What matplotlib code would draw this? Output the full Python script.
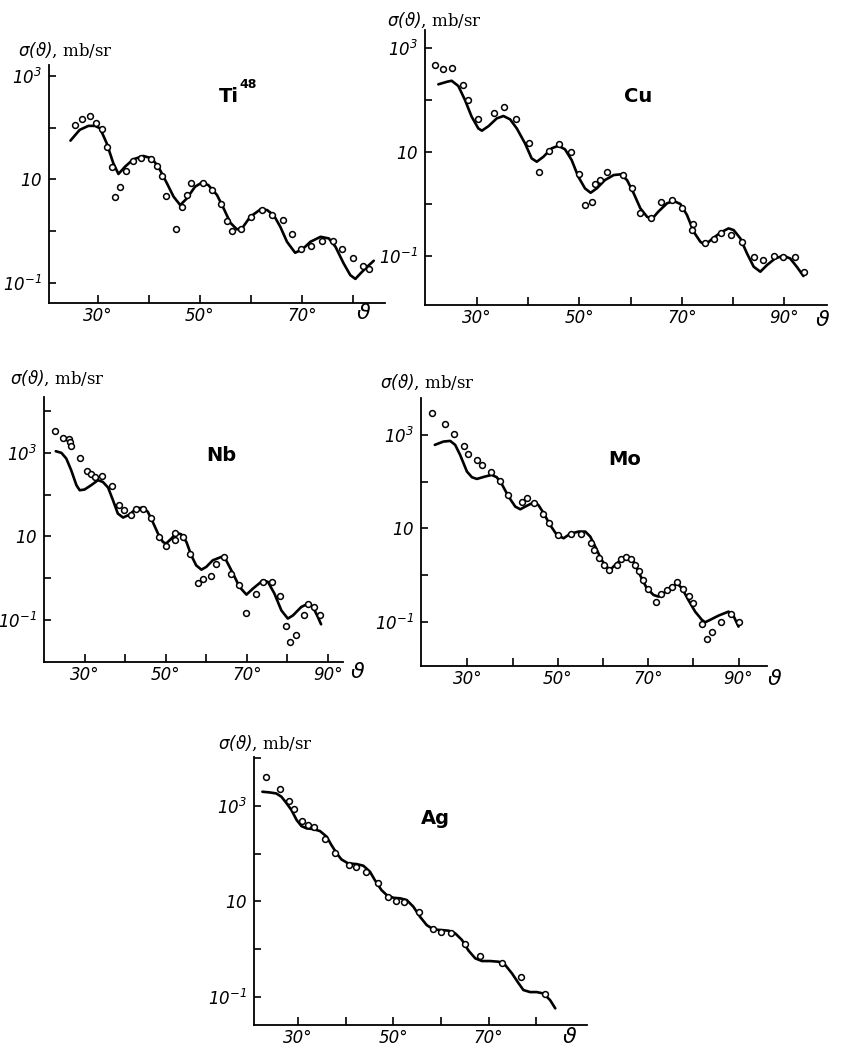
import matplotlib
matplotlib.use('Agg')
import matplotlib.pyplot as plt
from matplotlib.ticker import NullLocator

plt.rcParams['mathtext.fontset'] = 'custom'
plt.rcParams['mathtext.it'] = 'DejaVu Sans:italic'
plt.rcParams['mathtext.rm'] = 'DejaVu Sans:italic'
plt.rcParams['mathtext.default'] = 'it'

# ---------------- data (angle in degrees, cross-section in mb/sr) ----------------
ti_exp_deg = [25.5, 26.9, 28.6, 29.8, 30.9, 31.8, 32.8, 33.5, 34.5, 35.6, 37.0, 38.6, 40.4,
              41.7, 42.6, 43.4, 45.3, 46.5, 47.5, 48.3, 50.6, 52.5, 54.2, 55.3, 56.3, 58.1,
              60.1, 62.2, 64.2, 66.3, 68.1, 69.9, 71.8, 74.0, 76.1, 77.9, 80.0, 82.0, 83.1]
ti_exp_sig = [111, 149, 168, 125, 92.9, 41.6, 17.1, 4.49, 7.0, 14.7, 22.6, 26.2, 24.8,
              18.1, 11.6, 4.75, 1.11, 2.87, 4.9, 8.37, 8.37, 6.22, 3.33, 1.58, 1.0, 1.11,
              1.89, 2.55, 2.01, 1.63, 0.875, 0.442, 0.513, 0.65, 0.65, 0.455, 0.3, 0.213, 0.189]
ti_th_deg = [24.7, 26.5, 28.2, 29.5, 30.5, 31.8, 33.1, 34.1, 35.4, 37.0, 39.0, 40.6, 41.9,
             43.6, 44.9, 46.2, 47.5, 49.1, 50.4, 51.7, 53.4, 54.7, 56.0, 57.3, 58.3, 59.9,
             61.9, 63.2, 64.5, 65.8, 67.1, 68.7, 70.1, 71.7, 73.7, 75.3, 76.6, 78.2, 79.5,
             80.5, 81.5, 82.8, 84.1]
ti_th_sig = [56.0, 90.2, 108, 108, 97, 49.8, 20.4, 12.7, 17.6, 24.4, 28.3, 25.5, 17.6,
             8.37, 4.62, 3.18, 4.29, 7.21, 8.61, 7.76, 4.98, 2.75, 1.45, 1.08, 1.13, 1.89,
             2.62, 2.55, 2.04, 1.21, 0.622, 0.381, 0.442, 0.622, 0.776, 0.721, 0.498, 0.237,
             0.141, 0.119, 0.152, 0.204, 0.267]

cu_exp_deg = [21.9, 23.4, 25.1, 27.4, 28.2, 30.2, 33.4, 35.3, 37.6, 40.2, 42.1, 44.0, 46.1,
              48.3, 50.0, 51.1, 52.4, 53.0, 54.1, 55.3, 58.5, 60.2, 61.8, 64.0, 65.9, 68.0,
              70.0, 72.1, 71.9, 74.5, 76.2, 77.6, 79.6, 81.8, 84.0, 85.9, 87.9, 89.7, 92.0, 93.9]
cu_exp_sig = [458, 389, 401, 189, 98.9, 42.1, 56.5, 73.6, 42.7, 14.6, 4.16, 10.4, 14.4,
              9.77, 3.75, 0.94, 1.10, 2.45, 2.88, 4.16, 3.54, 1.99, 0.659, 0.528, 1.07, 1.19,
              0.836, 0.411, 0.315, 0.18, 0.209, 0.272, 0.253, 0.183, 0.097, 0.0838, 0.1,
              0.0942, 0.097, 0.05]
cu_th_deg = [22.5, 24.2, 25.1, 26.4, 27.7, 29.0, 30.3, 31.0, 32.3, 33.9, 35.2, 36.5, 37.8,
             39.4, 40.7, 41.7, 43.0, 44.6, 45.9, 47.2, 48.5, 49.8, 51.1, 52.2, 53.4, 55.0,
             56.7, 58.0, 59.3, 60.6, 61.9, 63.2, 64.1, 65.4, 67.1, 68.4, 69.7, 71.0, 72.3,
             73.6, 74.5, 75.8, 77.5, 79.1, 80.1, 81.4, 82.7, 84.0, 85.3, 86.6, 88.2, 89.8,
             91.1, 92.4, 93.7]
cu_th_sig = [198, 222, 232, 184, 98.9, 47.3, 28.2, 25.5, 31.3, 44.0, 48.8, 42.1, 28.2,
             14.6, 7.5, 6.47, 8.07, 11.7, 13.1, 11.2, 6.97, 3.33, 1.99, 1.64, 1.99, 2.88,
             3.59, 3.70, 2.88, 1.60, 0.822, 0.569, 0.506, 0.71, 1.03, 1.14, 1.0, 0.612,
             0.293, 0.188, 0.163, 0.209, 0.281, 0.34, 0.315, 0.218, 0.112, 0.0624, 0.05,
             0.0671, 0.0902, 0.101, 0.0902, 0.0624, 0.0413]

nb_exp_deg = [22.8, 24.7, 26.1, 26.5, 26.7, 28.8, 30.6, 31.5, 32.6, 34.4, 36.7, 38.5, 39.6,
              41.5, 42.8, 44.5, 46.4, 48.3, 50.1, 52.3, 52.4, 54.2, 56.1, 57.9, 59.3, 61.2,
              62.3, 64.3, 66.2, 68.0, 69.9, 72.2, 74.1, 76.3, 78.2, 79.7, 80.7, 82.1, 84.0,
              85.1, 86.5, 88.1]
nb_exp_sig = [3373, 2333, 2208, 1837, 1472, 759, 377, 319, 265, 275, 161, 57.5, 42.1,
              33.1, 44.5, 44.5, 27.0, 9.64, 5.75, 8.32, 12.0, 9.46, 3.84, 0.759, 0.964, 1.12,
              2.21, 3.13, 1.25, 0.667, 0.142, 0.421, 0.802, 0.802, 0.37, 0.0692, 0.0296,
              0.0421, 0.127, 0.242, 0.201, 0.129]
nb_th_deg = [22.9, 24.3, 25.5, 26.7, 28.0, 28.8, 30.0, 31.6, 33.3, 34.5, 35.8, 37.0, 38.2,
             39.5, 41.1, 42.7, 44.4, 45.6, 46.8, 48.1, 49.3, 50.1, 51.4, 52.6, 53.8, 55.1,
             56.3, 57.5, 58.8, 60.0, 61.6, 63.7, 64.9, 66.6, 68.2, 69.9, 71.5, 74.0, 75.2,
             76.8, 78.5, 80.1, 81.4, 83.4, 85.1, 86.3, 87.5, 88.3]
nb_th_sig = [1096, 1000, 731, 384, 167, 127, 132, 167, 221, 201, 147, 73.1, 35.0,
             28.1, 33.1, 46.1, 48.8, 38.4, 22.1, 11.6, 7.31, 6.67, 8.79, 12.0, 11.2, 7.31,
             3.50, 2.01, 1.58, 1.84, 2.65, 3.19, 2.65, 1.27, 0.608, 0.398, 0.555, 0.879,
             0.802, 0.421, 0.167, 0.106, 0.127, 0.201, 0.242, 0.201, 0.116, 0.0773]

mo_exp_deg = [22.2, 25.1, 27.1, 29.3, 30.2, 32.1, 33.3, 35.2, 37.3, 39.1, 42.1, 43.3, 44.8,
              46.8, 48.1, 50.0, 53.0, 55.2, 57.3, 58.0, 59.1, 60.3, 61.4, 63.1, 64.1, 65.2,
              66.3, 67.2, 67.9, 68.8, 69.9, 71.8, 72.9, 74.1, 75.2, 76.4, 77.8, 79.1, 80.0,
              82.0, 83.1, 84.1, 86.1, 88.3, 90.0]
mo_exp_sig = [3013, 1750, 1069, 590, 392, 291, 228, 164, 102, 51.8, 36.1, 45.4, 35.5,
              20.0, 12.8, 7.08, 7.43, 7.43, 4.93, 3.44, 2.28, 1.64, 1.28, 1.64, 2.17, 2.39,
              2.20, 1.64, 1.24, 0.782, 0.493, 0.269, 0.385, 0.478, 0.562, 0.697, 0.493,
              0.355, 0.247, 0.0877, 0.0433, 0.0611, 0.1, 0.146, 0.0984]
mo_th_deg = [22.8, 24.7, 26.2, 27.3, 28.4, 29.9, 31.0, 32.1, 33.9, 35.4, 36.5, 37.6, 39.1,
             40.6, 41.7, 43.1, 44.6, 45.7, 46.8, 48.3, 49.8, 51.3, 52.7, 54.6, 56.1, 57.2,
             58.3, 59.7, 60.9, 61.7, 63.1, 64.5, 65.7, 66.8, 68.2, 69.7, 71.2, 72.3, 73.4,
             74.9, 76.4, 77.5, 78.9, 80.4, 81.9, 82.6, 83.7, 85.6, 87.8, 88.9, 90.0]
mo_th_sig = [611, 719, 743, 611, 372, 164, 124, 114, 128, 139, 124, 89.1, 47.8,
             29.1, 25.5, 30.1, 35.5, 31.6, 21.7, 11.8, 7.19, 6.11, 7.57, 8.49, 8.49, 6.62,
             4.05, 2.09, 1.46, 1.32, 1.78, 2.35, 2.39, 1.93, 1.0, 0.518, 0.372, 0.344,
             0.405, 0.518, 0.662, 0.518, 0.291, 0.164, 0.109, 0.0968, 0.109, 0.135, 0.164,
             0.132, 0.0782]

ag_exp_deg = [23.3, 26.1, 28.1, 29.1, 30.9, 32.1, 33.3, 35.6, 37.7, 40.7, 42.1, 44.2, 46.7,
              48.9, 50.6, 52.2, 55.3, 58.3, 60.0, 62.1, 65.1, 68.1, 72.8, 76.8, 81.8]
ag_exp_sig = [4121, 2239, 1274, 865, 492, 399, 368, 200, 105, 57.8, 51.6, 40.6, 24.7,
              12.1, 10.0, 9.53, 5.87, 2.59, 2.31, 2.20, 1.25, 0.724, 0.5, 0.263, 0.112]
ag_th_deg = [22.5, 24.0, 25.4, 26.5, 27.6, 28.6, 29.7, 30.7, 31.8, 33.2, 34.6, 36.0, 37.0,
             38.1, 39.1, 40.5, 42.3, 43.7, 45.1, 46.1, 47.5, 48.6, 50.0, 51.4, 52.8, 54.2,
             55.6, 57.0, 58.4, 59.8, 61.6, 63.0, 64.4, 65.8, 67.2, 68.6, 70.3, 72.1, 73.5,
             74.9, 76.3, 77.3, 78.7, 80.1, 81.5, 82.9, 84.0]
ag_th_sig = [2000, 1936, 1845, 1570, 1138, 824, 508, 380, 340, 329, 299, 228, 152,
             102, 76.0, 62.7, 60.7, 56.0, 41.9, 28.1, 17.3, 13.6, 11.9, 11.6, 10.7, 7.73,
             4.76, 3.18, 2.59, 2.51, 2.43, 2.13, 1.55, 0.923, 0.637, 0.56, 0.56, 0.542,
             0.461, 0.309, 0.191, 0.138, 0.125, 0.125, 0.117, 0.0851, 0.0569]

ytick_vals = [0.1, 1, 10, 100, 1000, 10000]
ytick_text = [r'$10^{-1}$', '', r'$10$', '', r'$10^{3}$', '']
xtick_vals = [30, 40, 50, 60, 70, 80, 90]
xtick_text = ['30\u00b0', '', '50\u00b0', '', '70\u00b0', '', '90\u00b0']

# ---------------- figure ----------------
W, H = 842, 1051
fig = plt.figure(figsize=(W / 100, H / 100), dpi=100)


def rect(l, t, r, b):
    return [l / W, 1 - b / H, (r - l) / W, (b - t) / H]


def ftext(x, y, s, **kw):
    fig.text(x / W, 1 - y / H, s, **kw)


tickfont = dict(family='DejaVu Sans', style='italic', size=12)


def panel(box, xlim, ylim, nx, ny, ed, es, td, ts):
    ax = fig.add_axes(rect(*box))
    ax.set_yscale('log')
    ax.plot(td, ts, color='black', lw=1.9, solid_joinstyle='round',
            solid_capstyle='round', zorder=2)
    ax.plot(ed, es, ls='none', marker='o', ms=4.2, mfc='white', mec='black',
            mew=1.1, zorder=3)
    ax.set_xlim(*xlim)
    ax.set_ylim(*ylim)
    for s in ('top', 'right'):
        ax.spines[s].set_visible(False)
    for s in ('left', 'bottom'):
        ax.spines[s].set_linewidth(1.3)
    ax.set_xticks(xtick_vals[:nx])
    ax.set_xticklabels(xtick_text[:nx], fontdict=tickfont)
    ax.set_yticks(ytick_vals[:ny])
    ax.set_yticklabels(ytick_text[:ny], fontdict=tickfont)
    ax.yaxis.set_minor_locator(NullLocator())
    ax.xaxis.set_minor_locator(NullLocator())
    ax.tick_params(axis='both', direction='in', width=1.2)
    ax.tick_params(axis='y', length=5, pad=5)
    ax.tick_params(axis='x', length=6, pad=3)
    ax.patch.set_visible(False)
    return ax


ylab = r'$\sigma(\vartheta)$' + ', mb/sr'
labfont = dict(family='DejaVu Serif', size=12, va='center', ha='left')
elfont = dict(family='DejaVu Sans', weight='bold', size=14, ha='center', va='center')
thfont = dict(family='DejaVu Sans', style='italic', size=16, ha='center', va='center')

# Ti48
panel((49, 65, 385, 303), (20.5, 86.3), (10 ** -1.39, 10 ** 3.21), 6, 5,
      ti_exp_deg, ti_exp_sig, ti_th_deg, ti_th_sig)
ftext(18, 50, ylab, **labfont)
ftext(229, 97, 'Ti', **elfont)
ftext(248, 85, '48', family='DejaVu Sans', weight='bold', size=9, ha='center', va='center')
ftext(364, 313, '\u03d1', **thfont)

# Cu
panel((425, 30, 827, 305), (19.9, 98.3), (10 ** -1.94, 10 ** 3.34), 7, 5,
      cu_exp_deg, cu_exp_sig, cu_th_deg, cu_th_sig)
ftext(387, 20, ylab, **labfont)
ftext(638, 97, 'Cu', **elfont)
ftext(823, 320, '\u03d1', **thfont)

# Nb
panel((44, 397, 343, 662), (20.0, 93.7), (10 ** -2.016, 10 ** 4.34), 7, 6,
      nb_exp_deg, nb_exp_sig, nb_th_deg, nb_th_sig)
ftext(10, 378, ylab, **labfont)
ftext(221, 455, 'Nb', **elfont)
ftext(358, 672, '\u03d1', **thfont)

# Mo
panel((421, 398, 767, 666), (19.74, 96.3), (10 ** -1.95, 10 ** 3.79), 7, 5,
      mo_exp_deg, mo_exp_sig, mo_th_deg, mo_th_sig)
ftext(380, 382, ylab, **labfont)
ftext(625, 460, 'Mo', **elfont)
ftext(775, 679, '\u03d1', **thfont)

# Ag
panel((254, 757, 587, 1025), (20.74, 90.66), (10 ** -1.594, 10 ** 4.03), 6, 6,
      ag_exp_deg, ag_exp_sig, ag_th_deg, ag_th_sig)
ftext(218, 743, ylab, **labfont)
ftext(435, 818, 'Ag', **elfont)
ftext(570, 1037, '\u03d1', **thfont)

fig.savefig('out.png', dpi=100, facecolor='white')
